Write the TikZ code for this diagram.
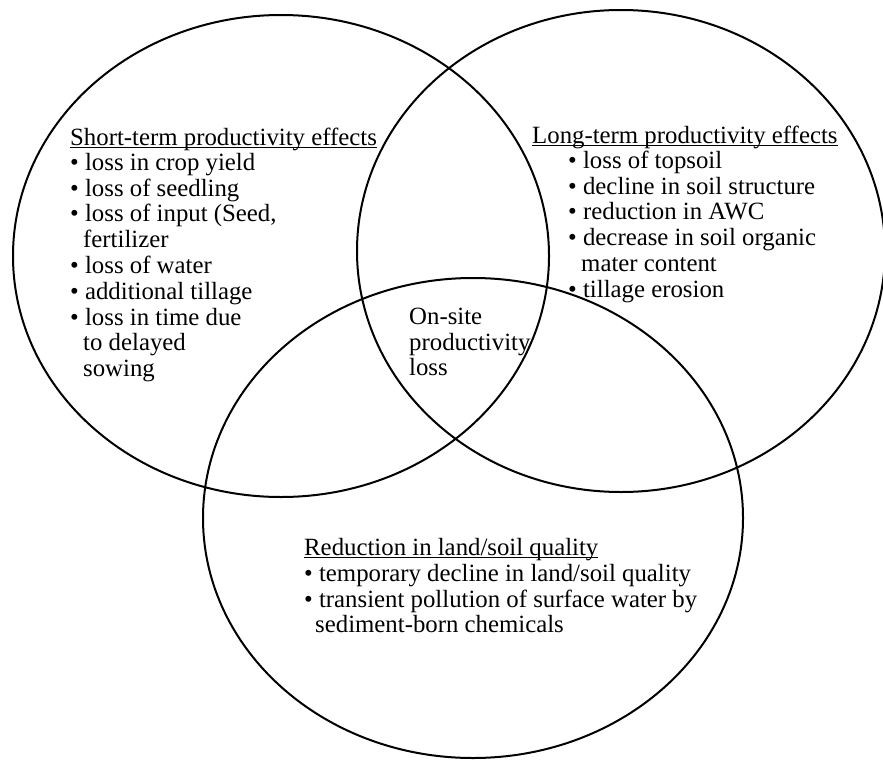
\documentclass[tikz,border=0pt]{standalone}
\usepackage{fontspec}
\setmainfont{Liberation Serif}
\newcommand\myul[1]{\setbox0\hbox{#1}\rlap{\rule[-2.6pt]{\wd0}{1.2pt}}\box0}
\newcommand\fs{\rule{0pt}{18pt}}
\begin{document}
\begin{tikzpicture}[x=1pt,y=-1pt,
  ring/.style={line width=2pt},
  txt/.style={anchor=north west, inner sep=0pt, align=left, font=\fontsize{24.8}{25.8}\selectfont}]
\useasboundingbox (0,0) rectangle (883,760);
\draw[ring] (281,256) ellipse [x radius=268, y radius=241];
\draw[ring] (621,251) ellipse [x radius=264, y radius=241];
\draw[ring] (473,518) ellipse [x radius=270, y radius=240];

% short-term
\node[txt] (sthead) at (70,127) {\fs\myul{Short-term productivity effects}};
\node[txt] (stitems) at (70,152) {\fs\textbullet\ loss in crop yield\\
\textbullet\ loss of seedling\\
\textbullet\ loss of input (Seed,\\
\hspace*{13pt}fertilizer\\
\textbullet\ loss of water\\
\textbullet\ additional tillage\\
\textbullet\ loss in time due\\
\hspace*{13pt}to delayed\\
\hspace*{13pt}sowing};

% long-term
\node[txt] (lthead) at (532,125) {\fs\myul{Long-term productivity effects}};
\node[txt] (ltitems) at (568,150) {\fs\textbullet\ loss of topsoil\\
\textbullet\ decline in soil structure\\
\textbullet\ reduction in AWC\\
\textbullet\ decrease in soil organic\\
\hspace*{13pt}mater content\\
\textbullet\ tillage erosion};

% centre
\node[txt] (centre) at (409,306) {\fs On-site\\productivity\\loss};

% bottom
\node[txt] (rqhead) at (304,537) {\fs\myul{Reduction in land/soil quality}};
\node[txt] (rqitems) at (304,563) {\fs\textbullet\ temporary decline in land/soil quality\\
\textbullet\ transient pollution of surface water by\\
\hspace*{11pt}sediment-born chemicals};
\end{tikzpicture}
\end{document}
